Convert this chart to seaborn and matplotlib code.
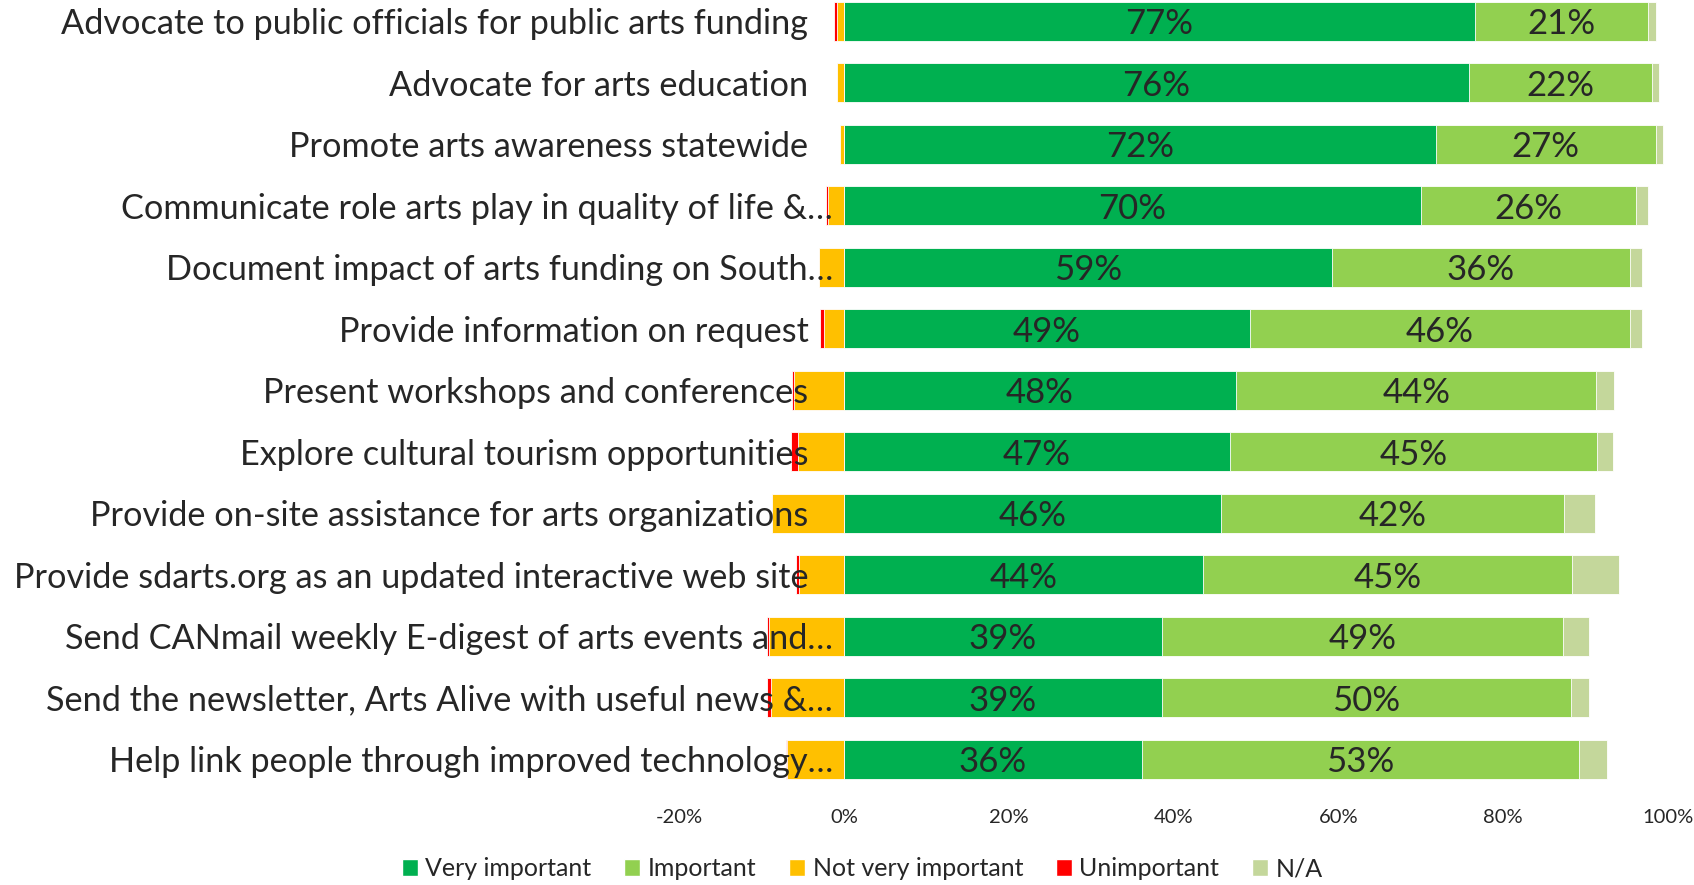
import seaborn as sns
import matplotlib.pyplot as plt
from matplotlib.patches import Patch

# categories (top to bottom)
labels = [
    "Advocate to public officials for public arts funding",
    "Advocate for arts education",
    "Promote arts awareness statewide",
    "Communicate role arts play in quality of life &\u2026",
    "Document impact of arts funding on South\u2026",
    "Provide information on request",
    "Present workshops and conferences",
    "Explore cultural tourism opportunities",
    "Provide on-site assistance for arts organizations",
    "Provide sdarts.org as an updated interactive web site",
    "Send CANmail weekly E-digest of arts events and\u2026",
    "Send the newsletter, Arts Alive with useful news &\u2026",
    "Help link people through improved technology\u2026",
]

# shares in percent
very_important = [76.6, 75.8, 71.8, 70.0, 59.2, 49.3, 47.6, 46.8, 45.8, 43.6, 38.6, 38.6, 36.2]
important = [21.0, 22.2, 26.7, 26.1, 36.2, 46.1, 43.7, 44.6, 41.6, 44.8, 48.6, 49.6, 53.0]
not_applicable = [0.9, 0.9, 0.85, 1.5, 1.4, 1.5, 2.2, 1.9, 3.7, 5.6, 3.2, 2.2, 3.4]
not_very_important = [0.8, 0.85, 0.5, 1.9, 3.0, 2.4, 6.05, 5.6, 8.7, 5.45, 9.1, 8.8, 6.9]
unimportant = [0.4, 0, 0, 0.25, 0, 0.45, 0.2, 0.85, 0, 0.35, 0.25, 0.57, 0.17]

series = ["Very important", "Important", "Not very important", "Unimportant", "N/A"]
colors = {
    "Very important": "#00B050",
    "Important": "#92D050",
    "Not very important": "#FFC000",
    "Unimportant": "#FF0000",
    "N/A": "#C4D79B",
}
xticks = [-20, 0, 20, 40, 60, 80, 100]

sns.set_style("white")
plt.rcParams["font.family"] = ["Lato", "DejaVu Sans"]

fig = plt.figure(figsize=(16.94, 8.85), dpi=100)
ax = fig.add_axes([679 / 1694, 95 / 885, (1668 - 679) / 1694, 799.5 / 885])

# stacked bars drawn as overlapping cumulative totals
pos_total = [v + i + n for v, i, n in zip(very_important, important, not_applicable)]
pos_mid = [v + i for v, i in zip(very_important, important)]
neg_total = [-(a + b) for a, b in zip(not_very_important, unimportant)]
neg_nvi = [-a for a in not_very_important]

layers = [
    (pos_total, "N/A"),
    (pos_mid, "Important"),
    (very_important, "Very important"),
    (neg_total, "Unimportant"),
    (neg_nvi, "Not very important"),
]
for vals, name in layers:
    sns.barplot(x=vals, y=labels, orient="h", color=colors[name], saturation=1,
                width=0.634, edgecolor="white", linewidth=0.6, ax=ax)

# percent labels in the two main segments
for k, (v, imp) in enumerate(zip(very_important, important)):
    ax.text(v / 2, k, f"{round(v)}%", ha="center", va="center_baseline", fontsize=25)
    ax.text(v + imp / 2, k, f"{round(imp)}%", ha="center", va="center_baseline", fontsize=25)

# category labels sit over the negative side, like in Excel
for k, lab in enumerate(labels):
    x = -1.3 if lab.endswith("\u2026") else -4.3
    ax.text(x, k, lab, ha="right", va="center_baseline", fontsize=24.7, clip_on=False)

ax.set_xlim(-20, 100)
ax.set_ylim(12.5, -0.5)
ax.set_xticks(xticks)
ax.set_xticklabels([f"{t}%" for t in xticks], fontsize=14.5)
ax.tick_params(axis="x", length=0, pad=14)
ax.set_yticks([])
ax.set_xlabel("")
ax.set_ylabel("")
for s in ax.spines.values():
    s.set_visible(False)

handles = [Patch(facecolor=colors[s], label=s) for s in series]
fig.legend(handles=handles, loc="center", bbox_to_anchor=(0.509, 1 - 869 / 885), ncol=5,
           frameon=False, fontsize=18, handlelength=0.65, handleheight=0.65,
           handletextpad=0.3, columnspacing=1.3)

fig.savefig("out.png", dpi=100)
